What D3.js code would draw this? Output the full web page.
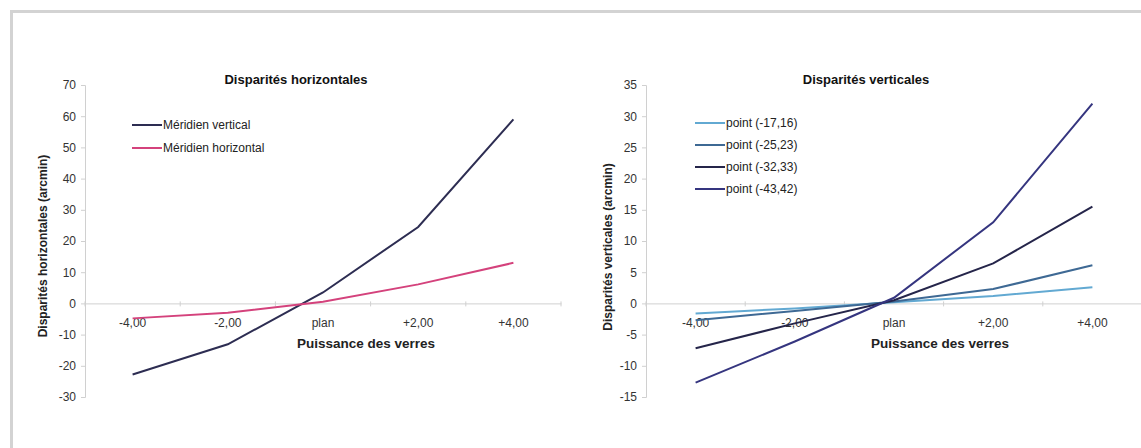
<!DOCTYPE html>
<html><head><meta charset="utf-8">
<script src="https://cdn.jsdelivr.net/npm/d3@7"></script>
<style>
html,body{margin:0;padding:0;background:#fff;overflow:hidden;}
svg{display:block;font-family:"Liberation Sans",Arial,sans-serif;}
</style></head>
<body><svg id="c" width="1141" height="448"></svg>
<script>
const categories = ["-4,00", "-2,00", "plan", "+2,00", "+4,00"];

const hSeriesNames = ["Méridien vertical", "Méridien horizontal"];
const meridienVertical = [-22.8, -13.1, 3.5, 24.5, 59];
const meridienHorizontal = [-4.8, -3.0, 0.5, 6.1, 13];
const hTicks = [-30, -20, -10, 0, 10, 20, 30, 40, 50, 60, 70];

const vSeriesNames = ["point (-17,16)", "point (-25,23)", "point (-32,33)", "point (-43,42)"];
const point1716 = [-1.6, -0.8, 0.2, 1.2, 2.6];
const point2523 = [-2.7, -1.2, 0.3, 2.3, 6.1];
const point3233 = [-7.2, -3.2, 0.5, 6.4, 15.5];
const point4342 = [-12.7, -6.1, 0.9, 13, 32];
const vTicks = [-15, -10, -5, 0, 5, 10, 15, 20, 25, 30, 35];

const hColors = ["#2d2d52", "#d4427c"];
const vColors = ["#62a9d2", "#3e6994", "#25254a", "#35357f"];

const svg = d3.select("#c");

// outer frame (left and top edges visible)
svg.append("path").attr("d", "M11.5,448 V11.5 H1141")
  .attr("fill", "none").attr("stroke", "#d3d3d3").attr("stroke-width", 3);

function drawChart(cfg) {
  const g = svg.append("g");
  const x = d3.scaleBand().domain(categories).range([cfg.x0, cfg.x1]);
  const y = d3.scaleLinear().domain([cfg.ticks[0], cfg.ticks[cfg.ticks.length - 1]]).range([397, 85]);

  // y axis
  const ya = g.append("g").attr("transform", `translate(${cfg.x0},0)`)
    .call(d3.axisLeft(y).tickValues(cfg.ticks).tickSize(4).tickPadding(5).tickFormat(d => String(d)));
  ya.select(".domain").attr("stroke", "#d0d0d0");
  ya.selectAll(".tick line").attr("stroke", "#d0d0d0");
  ya.selectAll("text").attr("font-size", 12).attr("fill", "#333").attr("font-family", "Liberation Sans, Arial, sans-serif");

  // x axis at zero
  const xa = g.append("g").attr("transform", `translate(0,${y(0)})`)
    .call(d3.axisBottom(x).tickSize(0).tickPadding(15));
  xa.select(".domain").attr("stroke", "#d0d0d0");
  xa.selectAll("text").attr("font-size", 12).attr("fill", "#333").attr("font-family", "Liberation Sans, Arial, sans-serif");
  // boundary tick marks
  const bounds = categories.map(c => x(c)).concat([x(categories[categories.length - 1]) + x.bandwidth()]);
  g.selectAll(".bt").data(bounds).enter().append("line")
    .attr("x1", d => d).attr("x2", d => d).attr("y1", y(0) - 2).attr("y2", y(0) + 3)
    .attr("stroke", "#d0d0d0");

  // lines
  const line = d3.line().x((d, i) => x(categories[i]) + x.bandwidth() / 2).y(d => y(d));
  cfg.series.forEach((s, i) => {
    g.append("path").datum(s).attr("d", line).attr("fill", "none")
      .attr("stroke", cfg.colors[i]).attr("stroke-width", 2);
  });

  // title
  g.append("text").attr("x", cfg.titleX).attr("y", 84).attr("text-anchor", "middle")
    .attr("font-size", 13).attr("font-weight", "bold").attr("fill", "#111").text(cfg.title);
  // x title
  g.append("text").attr("x", cfg.xTitleX).attr("y", 348).attr("text-anchor", "middle")
    .attr("font-size", 13.5).attr("font-weight", "bold").attr("fill", "#222").text("Puissance des verres");
  // y title
  g.append("text").attr("transform", `translate(${cfg.yTitleX},${cfg.yTitleY}) rotate(-90)`)
    .attr("text-anchor", "middle").attr("font-size", 12).attr("font-weight", "bold").attr("fill", "#222")
    .text(cfg.yTitle);

  // legend
  cfg.names.forEach((n, i) => {
    const ly = cfg.legY[i];
    g.append("line").attr("x1", cfg.legX).attr("x2", cfg.legX + 30).attr("y1", ly).attr("y2", ly)
      .attr("stroke", cfg.colors[i]).attr("stroke-width", 2);
    g.append("text").attr("x", cfg.legX + 31).attr("y", ly + 4).attr("font-size", 12)
      .attr("fill", "#222").text(n);
  });
}

drawChart({
  x0: 85, x1: 561, ticks: hTicks,
  series: [meridienVertical, meridienHorizontal], colors: hColors, names: hSeriesNames,
  title: "Disparités horizontales", titleX: 296,
  xTitleX: 366, yTitle: "Disparités horizontales (arcmin)", yTitleX: 47, yTitleY: 246,
  legX: 132, legY: [125, 148]
});

drawChart({
  x0: 646, x1: 1142, ticks: vTicks,
  series: [point1716, point2523, point3233, point4342], colors: vColors, names: vSeriesNames,
  title: "Disparités verticales", titleX: 866,
  xTitleX: 940, yTitle: "Disparités verticales (arcmin)", yTitleX: 612, yTitleY: 247,
  legX: 695, legY: [123, 145, 167, 189]
});
</script></body></html>
